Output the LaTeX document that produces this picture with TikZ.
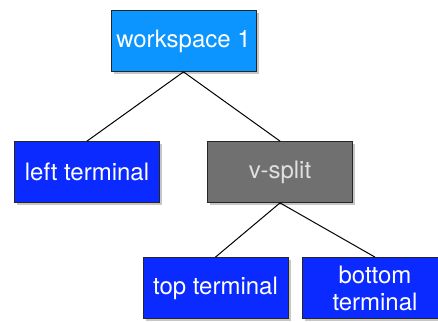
\documentclass[tikz,border=0pt]{standalone}
\usepackage{fontspec}
\setmainfont{TeX Gyre Heros}
\usetikzlibrary{shadows}
\definecolor{wsblue}{RGB}{12,148,255}
\definecolor{termblue}{RGB}{10,42,255}
\definecolor{splitgray}{RGB}{112,112,112}
\tikzset{
  treebox/.style={draw=black!85, line width=0.8pt, minimum width=145pt, minimum height=61pt,
    inner sep=2pt, align=center, font=\fontsize{24}{27}\selectfont,
    drop shadow={shadow xshift=2.5pt, shadow yshift=-2.5pt, opacity=0.45}},
  wsbox/.style={treebox, fill=wsblue, text=white},
  termbox/.style={treebox, fill=termblue, text=white},
  splitbox/.style={treebox, fill=splitgray, text=black!12},
  edge/.style={draw=black, line width=1pt}
}
\begin{document}
\begin{tikzpicture}[x=1pt,y=-1pt]
  \clip (0,0) rectangle (438,321);
  \useasboundingbox (0,0) rectangle (438,321);
  % nodes of the workspace tree
  \node[wsbox]   (ws)     at (183.5,41)  {workspace 1};
  \node[termbox] (left)   at (87,172)    {left terminal};
  \node[splitbox](vsplit) at (280,172)   {v-split};
  \node[termbox] (top)    at (215.5,288) {top terminal};
  \node[termbox] (bottom) at (375,288)   {bottom\\terminal};
  % parent-child connectors
  \draw[edge] (ws.south) -- (left.north);
  \draw[edge] (ws.south) -- (vsplit.north);
  \draw[edge] (vsplit.south) -- (top.north);
  \draw[edge] (vsplit.south) -- (bottom.north);
\end{tikzpicture}
\end{document}
